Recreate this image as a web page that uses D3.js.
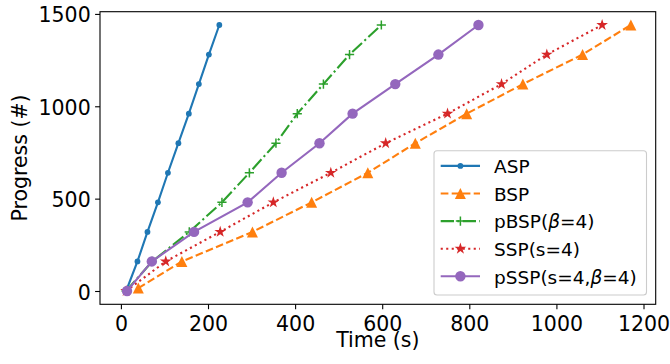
<!DOCTYPE html>
<html>
<head>
<meta charset="utf-8">
<script src="https://cdn.jsdelivr.net/npm/d3@7/dist/d3.min.js"></script>
<style>
    body { margin: 0; background: #fff; }
    svg text { font-family: "DejaVu Sans", sans-serif; fill: #000; }
</style>
</head>
<body>
<div id="chart"></div>
<script>
// values
const progress = [0, 160, 320, 480, 640, 800, 960, 1120, 1280, 1440];
const bspProgress = [16, 160, 320, 480, 640, 800, 960, 1120, 1280, 1440];

const aspTime = [12, 38, 61, 85, 108, 132, 156, 179, 202, 226];
const bspTime = [40, 140, 302, 438, 567, 676, 794, 923, 1060, 1171];
const pbspTime = [12, 72, 157, 232, 295, 356, 405, 465, 525, 598];
const sspTime = [12, 103, 228, 350, 482, 608, 750, 874, 978, 1105];
const psspTime = [14, 71, 168, 291, 369, 456, 532, 630, 729, 821];

const xTicks = [0, 200, 400, 600, 800, 1000, 1200];
const yTicks = [0, 500, 1000, 1500];

const seriesNames = ["ASP", "BSP", "pBSP", "SSP", "pSSP"];
const seriesColors = ["#1f77b4", "#ff7f0e", "#2ca02c", "#d62728", "#9467bd"];

const series = [
    {name: "ASP", time: aspTime, progress: progress, dash: null, marker: "dot"},
    {name: "BSP", time: bspTime, progress: bspProgress, dash: "7.7,3.3", marker: "triangle"},
    {name: "pBSP", time: pbspTime, progress: progress, dash: "13.3,3.3,2.1,3.3", marker: "plus"},
    {name: "SSP", time: sspTime, progress: progress, dash: "2.1,3.4", marker: "star"},
    {name: "pSSP", time: psspTime, progress: progress, dash: null, marker: "circle"}
];

const width = 670, height = 364;
const box = {left: 100, right: 655.7, top: 11.7, bottom: 304.3};
const labelSize = "20.5px";
const legendSize = "18.5px";

const svg = d3.select("#chart")
    .append("svg")
    .attr("width", width)
    .attr("height", height);

const x = d3.scaleLinear().domain([-48, 1228]).range([box.left, box.right]);
const y = d3.scaleLinear().domain([-72, 1512]).range([box.bottom, box.top]);

// axes
const xAxis = svg.append("g")
    .attr("transform", `translate(0,${box.bottom})`)
    .call(d3.axisBottom(x).tickValues(xTicks).tickSize(4.9).tickPadding(4.9).tickFormat(d3.format("d")));

const yAxis = svg.append("g")
    .attr("transform", `translate(${box.left},0)`)
    .call(d3.axisLeft(y).tickValues(yTicks).tickSize(4.9).tickPadding(4.4).tickFormat(d3.format("d")));

[xAxis, yAxis].forEach(g => {
    g.attr("font-size", null).attr("font-family", null);
    g.select(".domain").remove();
    g.selectAll(".tick line").attr("stroke", "#000").attr("stroke-width", 1.1);
    g.selectAll(".tick text").attr("font-size", labelSize);
});
xAxis.selectAll(".tick text").attr("dy", null).attr("y", 26.4);
yAxis.selectAll(".tick text").attr("dy", "8px");

// frame
svg.append("rect")
    .attr("x", box.left)
    .attr("y", box.top)
    .attr("width", box.right - box.left)
    .attr("height", box.bottom - box.top)
    .attr("fill", "none")
    .attr("stroke", "#000")
    .attr("stroke-width", 1.1);

svg.append("text")
    .attr("x", (box.left + box.right) / 2)
    .attr("y", 347)
    .attr("text-anchor", "middle")
    .attr("font-size", labelSize)
    .text("Time (s)");

svg.append("text")
    .attr("transform", `translate(26.5,${(box.top + box.bottom) / 2}) rotate(-90)`)
    .attr("text-anchor", "middle")
    .attr("font-size", labelSize)
    .text("Progress (#)");

function drawMarker(g, type, color, cx, cy){
    if(type === "dot"){
        g.append("circle").attr("cx", cx).attr("cy", cy).attr("r", 2.9).attr("fill", color);
    } else if(type === "circle"){
        g.append("circle").attr("cx", cx).attr("cy", cy).attr("r", 5.2).attr("fill", color);
    } else if(type === "triangle"){
        const h = 5.5;
        g.append("path")
            .attr("d", `M${cx},${cy - h}L${cx - h},${cy + h}L${cx + h},${cy + h}Z`)
            .attr("fill", color);
    } else if(type === "plus"){
        const h = 4.6;
        g.append("path")
            .attr("d", `M${cx - h},${cy}H${cx + h}M${cx},${cy - h}V${cy + h}`)
            .attr("stroke", color)
            .attr("stroke-width", 1.5)
            .attr("fill", "none");
    } else if(type === "star"){
        g.append("path")
            .attr("transform", `translate(${cx},${cy})`)
            .attr("d", d3.symbol().type(d3.symbolStar).size(42)())
            .attr("fill", color);
    }
}

const line = d3.line();

series.forEach((s, i) => {
    const color = seriesColors[i];
    const pts = s.time.map((t, j) => [x(t), y(s.progress[j])]);
    const g = svg.append("g");

    g.append("path")
        .attr("d", line(pts))
        .attr("fill", "none")
        .attr("stroke", color)
        .attr("stroke-width", 2.1)
        .attr("stroke-dasharray", s.dash);

    pts.forEach(p => drawMarker(g, s.marker, color, p[0], p[1]));
});

// legend
const legend = svg.append("g");
legend.append("rect")
    .attr("x", 434)
    .attr("y", 150.7)
    .attr("width", 212.5)
    .attr("height", 144.3)
    .attr("rx", 3)
    .attr("fill", "#fff")
    .attr("fill-opacity", 0.8)
    .attr("stroke", "#cccccc")
    .attr("stroke-width", 1.1);

const legendLabels = [
    ["ASP"],
    ["BSP"],
    ["pBSP(", "β", "=4)"],
    ["SSP(s=4)"],
    ["pSSP(s=4,", "β", "=4)"]
];

series.forEach((s, i) => {
    const ly = 165.9 + i * 27.6;
    const color = seriesColors[i];
    const g = legend.append("g");

    g.append("path")
        .attr("d", `M440.7,${ly}H480`)
        .attr("stroke", color)
        .attr("stroke-width", 2.1)
        .attr("stroke-dasharray", s.dash);

    drawMarker(g, s.marker, color, 460.4, ly);

    const t = g.append("text")
        .attr("x", 494)
        .attr("y", ly + 7.2)
        .attr("font-size", legendSize);

    legendLabels[i].forEach(part => {
        t.append("tspan")
            .attr("font-style", part === "β" ? "italic" : null)
            .text(part);
    });
});
</script>
</body>
</html>
